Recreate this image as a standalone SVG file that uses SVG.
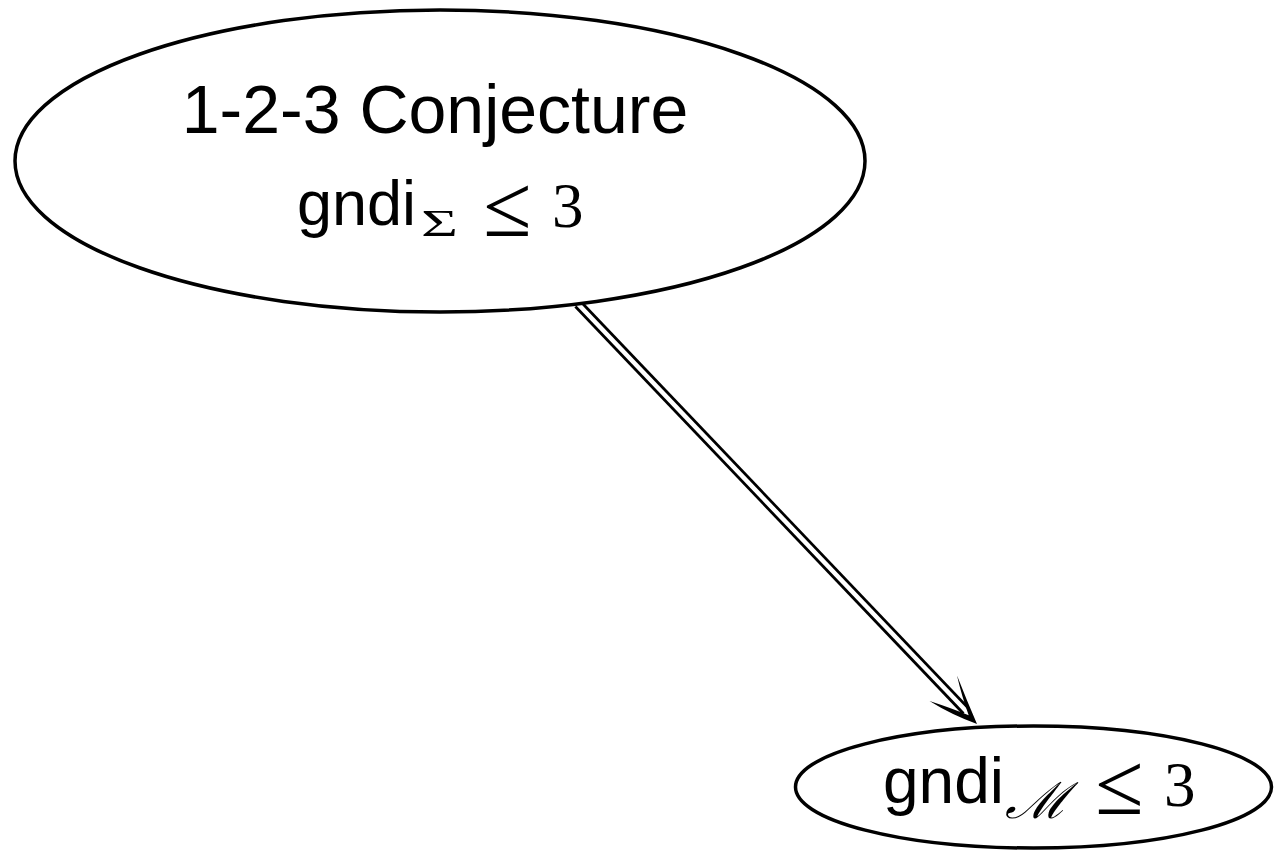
<svg xmlns="http://www.w3.org/2000/svg" width="1274" height="851" viewBox="0 0 1274 851">
  <style>
    .node { fill: #ffffff; stroke: #000000; stroke-width: 3.5; }
    .sans { font-family: "Liberation Sans", Arial, sans-serif; fill: #000000; }
    .serif { font-family: "Liberation Serif", "DejaVu Serif", serif; fill: #000000; }
    .cal { font-family: "DejaVu Serif", "Liberation Serif", serif; font-style: italic; fill: #000000; }
  </style>
  <rect width="1274" height="851" fill="#ffffff"/>

  <g id="connectors">
    <!-- double-stroked implication arrow: black band with a white core -->
    <path d="M578,304 L966,711" stroke="#000000" stroke-width="10" fill="none"/>
    <path d="M578,304 L968,713" stroke="#ffffff" stroke-width="4.5" fill="none"/>
    <path d="M977,724 Q951,714.5 929.5,701 Q951,708 968.7,715.3 Q962,697 957,675.5 Q967,701 977,724 Z" fill="#000000"/>
  </g>

  <g id="node-conjecture">
    <ellipse class="node" cx="440" cy="161" rx="425" ry="151"/>
    <text class="sans" font-size="68" x="435" y="133" text-anchor="middle">1-2-3 Conjecture</text>
    <text class="sans" font-size="63" x="297" y="225">gndi</text>
    <text class="serif" font-size="38" x="421" y="236" textLength="37" lengthAdjust="spacingAndGlyphs">Σ</text>
    <text class="serif" font-size="88" x="483" y="236">≤</text>
    <text class="serif" font-size="63" x="552" y="227">3</text>
  </g>

  <g id="node-gndi-m">
    <ellipse class="node" cx="1033.5" cy="787" rx="238" ry="61"/>
    <text class="sans" font-size="64" x="883" y="803">gndi</text>
    <text class="cal" font-size="50" x="1005" y="818" textLength="64" lengthAdjust="spacingAndGlyphs">ℳ</text>
    <text class="serif" font-size="88" x="1095" y="814">≤</text>
    <text class="serif" font-size="63" x="1164" y="806">3</text>
  </g>
</svg>
